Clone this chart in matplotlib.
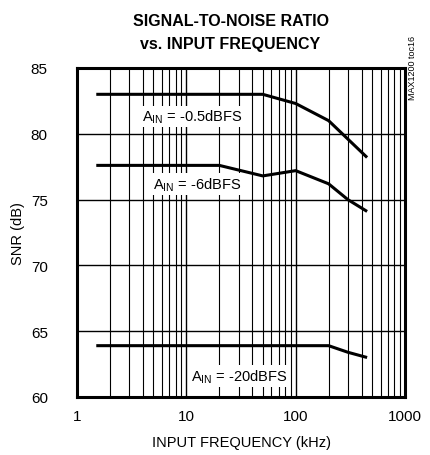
import numpy as np
import matplotlib.pyplot as plt
from matplotlib.ticker import FixedLocator, NullFormatter

plt.rcParams['font.family'] = ['Liberation Sans Narrow', 'Liberation Sans', 'DejaVu Sans']

# -- data --
freq_05 = [1.5, 50, 100, 200, 300, 450]
snr_05 = [83.0, 83.0, 82.3, 81.0, 79.6, 78.2]

freq_6 = [1.5, 20, 50, 100, 200, 300, 450]
snr_6 = [77.6, 77.6, 76.8, 77.2, 76.2, 75.0, 74.1]

freq_20 = [1.5, 200, 300, 450]
snr_20 = [63.9, 63.9, 63.4, 63.0]

labels = ["$\\mathregular{A_{IN}}$ = -0.5dBFS", "$\\mathregular{A_{IN}}$ = -6dBFS",
          "$\\mathregular{A_{IN}}$ = -20dBFS"]
label_pos = [(11.4, 81.3), (12.6, 76.2), (30.6, 61.6)]

fig = plt.figure(figsize=(4.31, 4.56), dpi=100)
ax = fig.add_axes([0.1787, 0.1272, 0.761, 0.7215])

for f, s in [(freq_05, snr_05), (freq_6, snr_6), (freq_20, snr_20)]:
    ax.plot(f, s, color='black', lw=2.2, zorder=3, solid_capstyle='butt')

ax.set_xscale('log')
ax.set_xlim(1, 1000)
ax.set_ylim(60, 85)
ax.set_xticks([1, 10, 100, 1000])
ax.set_xticklabels(['1', '10', '100', '1000'])
ax.xaxis.set_minor_locator(FixedLocator([m * 10**d for d in range(3) for m in range(2, 10)]))
ax.xaxis.set_minor_formatter(NullFormatter())
ax.set_yticks([60, 65, 70, 75, 80, 85])
ax.tick_params(which='both', length=0, labelsize=11)
ax.tick_params(axis='x', pad=9)
ax.tick_params(axis='y', pad=21)

ax.grid(which='major', color='black', lw=1.0)
ax.grid(which='minor', axis='x', color='black', lw=0.8)
for sp in ax.spines.values():
    sp.set_linewidth(2.2)

for txt, (x, y) in zip(labels, label_pos):
    ax.text(x, y, txt, ha='center', va='center', fontsize=10.5, zorder=4,
            bbox=dict(facecolor='white', edgecolor='none', pad=1.5))

ax.set_xlabel('INPUT FREQUENCY (kHz)', fontsize=10.5, labelpad=8)
ax.set_ylabel('SNR (dB)', fontsize=10.5, labelpad=4)
fig.text(0.535, 0.97, 'SIGNAL-TO-NOISE RATIO\nvs. INPUT FREQUENCY', ha='center', va='top',
         fontsize=11.5, fontweight='bold', linespacing=1.7)
fig.text(0.958, 0.85, 'MAX1200 toc16', rotation=90, fontsize=6.5, ha='center', va='center')

fig.savefig('out.png', dpi=100)
